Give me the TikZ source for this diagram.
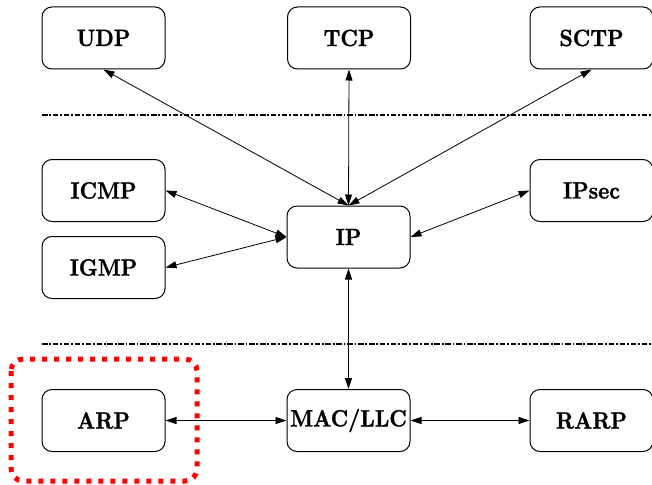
\documentclass[tikz,border=0pt]{standalone}
\usepackage{fontspec}
\usetikzlibrary{arrows.meta}
% heavy bold face for the protocol names
\newfontfamily\protofont{lmroman10-bold.otf}[FakeBold=1.2]
\newcommand\protolabel[1]{\scalebox{1}[1.12]{#1}}
\begin{document}
\begin{tikzpicture}[x=1pt,y=-1pt,
  proto/.style={draw, line width=1pt, rounded corners=10pt,
    minimum width=123pt, minimum height=62pt, inner sep=0pt,
    font=\protofont\fontsize{21}{25}\selectfont},
  link/.style={line width=0.8pt, {Triangle[length=11pt,width=7pt]}-{Triangle[length=11pt,width=7pt]}},
  layer/.style={line width=2.4pt, dash pattern=on 5.5pt off 1.8pt on 1.8pt off 1.8pt},
  mark box/.style={draw=red, line width=5pt, dash pattern=on 5pt off 7pt, rounded corners=12pt}]
\useasboundingbox (0,0) rectangle (652,484);

% protocol boxes
\node[proto] (udp)   at (103.5,38)   {\protolabel{UDP}};
\node[proto] (tcp)   at (349,38)     {\protolabel{TCP}};
\node[proto] (sctp)  at (591.5,38)   {\protolabel{SCTP}};
\node[proto] (icmp)  at (103.5,190.5){\protolabel{ICMP}};
\node[proto] (igmp)  at (103.5,267.5){\protolabel{IGMP}};
\node[proto] (ip)    at (348.5,237)  {\protolabel{IP}};
\node[proto] (ipsec) at (591.5,190.5){\protolabel{IPsec}};
\node[proto] (arp)   at (103.5,420.5){\protolabel{ARP}};
\node[proto] (mac)   at (348.5,420.5){\protolabel{MAC/LLC}};
\node[proto] (rarp)  at (591.5,420.5){\protolabel{RARP}};

% layer separators
\coordinate (l1a) at (42,115);  \coordinate (l1b) at (652,115);
\coordinate (l2a) at (42,344);  \coordinate (l2b) at (652,344);
\draw[layer] (l1a) -- (l1b);
\draw[layer] (l2a) -- (l2b);

% highlighted ARP
\coordinate (hl1) at (11,359); \coordinate (hl2) at (197,481);
\draw[mark box] (hl1) rectangle (hl2);

% connections
\draw[link] (udp.south)  -- (ip.north);
\draw[link] (tcp.south)  -- (ip.north);
\draw[link] (sctp.south) -- (ip.north);
\draw[link] (icmp.east)  -- (ip.west);
\draw[link] (igmp.east)  -- (ip.west);
\draw[link] (ipsec.west) -- (ip.east);
\draw[link] (ip.south)   -- (mac.north);
\draw[link] (arp.east)   -- (mac.west);
\draw[link] (mac.east)   -- (rarp.west);
\end{tikzpicture}
\end{document}
